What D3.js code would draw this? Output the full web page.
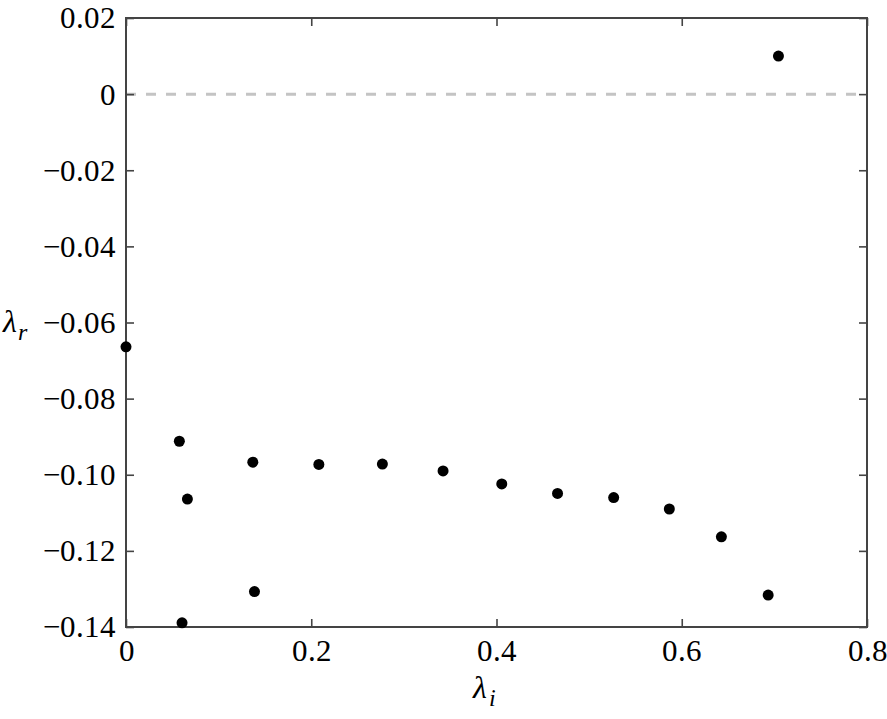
<!DOCTYPE html>
<html>
<head>
<meta charset="utf-8">
<title>Eigenvalues</title>
<script src="https://d3js.org/d3.v7.min.js"></script>
<style>
  @font-face { font-family: "PlotSerif"; src: local("Liberation Serif"), local("LiberationSerif"); font-style: normal; }
  @font-face { font-family: "PlotSerif"; src: local("Liberation Serif Italic"), local("LiberationSerif-Italic"); font-style: italic; }
  body { margin: 0; }
  svg text { font-family: PlotSerif, "Liberation Serif", serif !important; }
</style>
</head>
<body>
<div id="chart"></div>
<script>

let lambdaI = [0, 0.0576, 0.0663, 0.0605, 0.1369, 0.1387, 0.2082, 0.2768,
               0.3423, 0.4057, 0.4659, 0.5265, 0.5866, 0.6428, 0.6933, 0.7044];
let lambdaR = [-0.0664, -0.0912, -0.1064, -0.1389, -0.0967, -0.1307, -0.0973, -0.0972,
               -0.0990, -0.1024, -0.1049, -0.1060, -0.1090, -0.1163, -0.1316, 0.0100];

let xTicks = [0, 0.2, 0.4, 0.6, 0.8];
let yTicks = [0.02, 0, -0.02, -0.04, -0.06, -0.08, -0.10, -0.12, -0.14];
let yTickLabels = ["0.02", "0", "\u22120.02", "\u22120.04", "\u22120.06", "\u22120.08", "\u22120.10", "\u22120.12", "\u22120.14"];
let xTickLabels = ["0", "0.2", "0.4", "0.6", "0.8"];

let margin = {top: 18, right: 20, bottom: 92, left: 126};
let W = 887, H = 719;
let w = W - margin.left - margin.right;
let h = H - margin.top - margin.bottom;

let svg = d3.select("#chart").append("svg")
    .attr("width", W)
    .attr("height", H)
    .style("display", "block");

let g = svg.append("g")
    .attr("transform", "translate(" + margin.left + "," + margin.top + ")");

let x = d3.scaleLinear().domain([0, 0.8]).range([0, w]);
let y = d3.scaleLinear().domain([-0.14, 0.02]).range([h, 0]);

let axisColor = "#444";

// zero line
g.append("line")
    .attr("x1", x(0)).attr("x2", x(0.8))
    .attr("y1", y(0)).attr("y2", y(0))
    .attr("stroke", "#c4c4c4")
    .attr("stroke-width", 3)
    .attr("stroke-dasharray", "10,10");

// axes, ticks inward on all sides
function styleAxis(sel) {
    sel.attr("font-family", null).attr("font-size", null);
    sel.select(".domain").remove();
    sel.selectAll("line").attr("stroke", axisColor).attr("stroke-width", 1.6);
    sel.selectAll("text")
        .attr("font-size", "31px")
        .attr("fill", "#000");
}

g.append("g")
    .attr("transform", "translate(0," + h + ")")
    .call(d3.axisBottom(x).tickValues(xTicks).tickSizeInner(-8).tickSizeOuter(0)
        .tickPadding(12).tickFormat((d, i) => xTickLabels[i]))
    .call(styleAxis);

g.append("g")
    .call(d3.axisTop(x).tickValues(xTicks).tickSizeInner(-8).tickSizeOuter(0).tickFormat(""))
    .call(styleAxis);

g.append("g")
    .call(d3.axisLeft(y).tickValues(yTicks).tickSizeInner(-8).tickSizeOuter(0)
        .tickPadding(10).tickFormat((d, i) => yTickLabels[i]))
    .call(styleAxis);

g.append("g")
    .attr("transform", "translate(" + w + ",0)")
    .call(d3.axisRight(y).tickValues(yTicks).tickSizeInner(-8).tickSizeOuter(0).tickFormat(""))
    .call(styleAxis);

// frame
g.append("rect")
    .attr("width", w).attr("height", h)
    .attr("fill", "none")
    .attr("stroke", axisColor)
    .attr("stroke-width", 2);

// points
let pts = lambdaI.map((d, i) => [d, lambdaR[i]]);
g.selectAll("circle")
    .data(pts)
    .enter()
    .append("circle")
    .attr("cx", d => x(d[0]))
    .attr("cy", d => y(d[1]))
    .attr("r", 5.5)
    .attr("fill", "#000");

// axis labels
let xl = svg.append("text")
    .attr("x", 473).attr("y", 698)
    .attr("font-size", "32px")
    .attr("font-style", "italic");
xl.append("tspan").text("\u03bb");
xl.append("tspan").attr("font-size", "24px").attr("dy", 8).attr("dx", 2).text("i");

let yl = svg.append("text")
    .attr("x", 3).attr("y", 332)
    .attr("font-size", "32px")
    .attr("font-style", "italic");
yl.append("tspan").text("\u03bb");
yl.append("tspan").attr("font-size", "24px").attr("dy", 8).attr("dx", 1).text("r");

</script>
</body>
</html>
